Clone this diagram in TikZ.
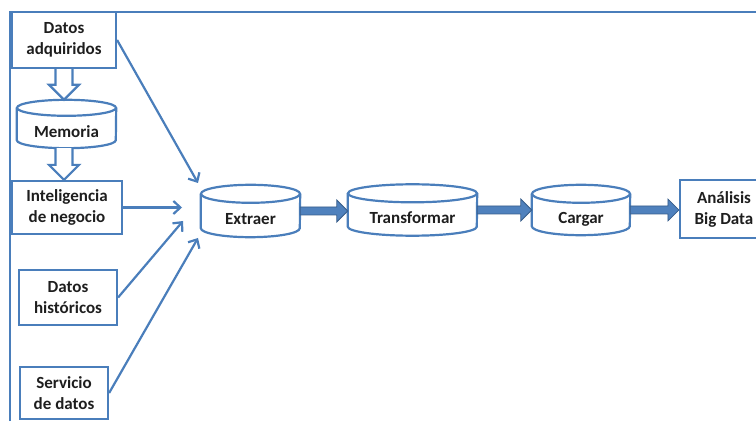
\documentclass[tikz,border=0pt]{standalone}
\usepackage{fontspec}
\setmainfont{Carlito}
\usetikzlibrary{arrows.meta,calc}
\definecolor{bordblue}{RGB}{74,126,187}
\definecolor{arrfill}{RGB}{79,129,189}
\definecolor{arrdark}{RGB}{56,93,138}
\definecolor{txt}{RGB}{30,30,30}
\newcommand\drawcylinder[3]{% node, half width, ry
  \draw[cylline] ($(#1.north west)+(0,-#3)$) -- ($(#1.south west)+(0,#3)$)
     arc[start angle=180,end angle=360,x radius=#2,y radius=#3]
     -- ($(#1.north east)+(0,-#3)$);
  \draw[cylline] ($(#1.north)+(0,-#3)$) ellipse[x radius=#2,y radius=#3];}
\newcommand\hollowarrow[3]{% x source, from, to
  \draw[hollow] let \p1=(#2), \p2=(#3), \p3=(#1) in
    (\x3-8.5pt,\y1) -- (\x3-8.5pt,\y2+15pt) -- (\x3-15pt,\y2+15pt) -- (\x3,\y2)
    -- (\x3+15pt,\y2+15pt) -- (\x3+8.5pt,\y2+15pt) -- (\x3+8.5pt,\y1);}
\newcommand\bigarrow[2]{% from, to
  \filldraw[bigarr] let \p1=(#1), \p2=(#2) in
    (\x1,\y1+4pt) -- (\x2-11pt,\y1+4pt) -- (\x2-11pt,\y1+11pt) -- (\x2,\y1)
    -- (\x2-11pt,\y1-11pt) -- (\x2-11pt,\y1-4pt) -- (\x1,\y1-4pt) -- cycle;}
\begin{document}
\begin{tikzpicture}[x=1pt,y=1pt,
  lbl/.style={font=\fontsize{17}{21}\selectfont\bfseries,text=txt},
  box/.style={lbl,align=center,draw=bordblue,line width=2.2pt,inner sep=0pt},
  cyl/.style={lbl,inner sep=0pt,text height=31pt,text depth=4pt},
  cylline/.style={draw=bordblue,line width=2.2pt},
  thinarr/.style={draw=bordblue,line width=2.2pt,-{Straight Barb[length=7pt,width=13pt,line width=2.2pt]}},
  hollow/.style={draw=bordblue,line width=2.2pt,fill=white,line join=miter},
  bigarr/.style={fill=arrfill,draw=arrdark,line width=0.8pt,line join=miter}
]
\useasboundingbox (0,0) rectangle (756,421);
% frame
\draw[bordblue,line width=2pt] (10,0) -- (10,409) -- (756,409);
% left column
\node[box,minimum width=104,minimum height=56] (da) at (64,381) {Datos\\adquiridos};
\node[cyl,minimum width=99,minimum height=48] (mem) at (66.5,297) {Memoria};
\node[box,minimum width=110,minimum height=53] (ig) at (67,213.5) {Inteligencia\\de negocio};
\node[box,minimum width=98,minimum height=55] (dh) at (68,123.5) {Datos\\históricos};
\node[box,minimum width=88,minimum height=52] (sd) at (64,28) {Servicio\\de datos};
% pipeline
\node[cyl,minimum width=99,minimum height=52] (ex) at (250.5,210) {Extraer};
\node[cyl,minimum width=129,minimum height=51] (tr) at (412.5,211) {Transformar};
\node[cyl,minimum width=98,minimum height=50] (ca) at (581,211) {Cargar};
\node[box,minimum width=88,minimum height=58] (an) at (724,212) {Análisis\\Big Data};
\drawcylinder{mem}{49.5}{8}
\drawcylinder{ex}{49.5}{9}
\drawcylinder{tr}{64.5}{9}
\drawcylinder{ca}{49}{9}
% hollow arrows
\hollowarrow{da.south}{da.south}{mem.north}
\hollowarrow{da.south}{mem.south}{ig.north}
% converging arrows
\coordinate (t1) at (198,238);
\coordinate (t2) at (182,213.5);
\coordinate (t3) at (183,200);
\coordinate (t4) at (198,183);
\draw[thinarr] (da.east) -- (t1);
\draw[thinarr] (ig.east) -- (t2);
\draw[thinarr] (dh.east) -- (t3);
\draw[thinarr] (sd.east) -- (t4);
% thick arrows
\bigarrow{ex.east}{tr.west}
\bigarrow{tr.east}{ca.west}
\bigarrow{ca.east}{an.west}
\end{tikzpicture}
\end{document}
